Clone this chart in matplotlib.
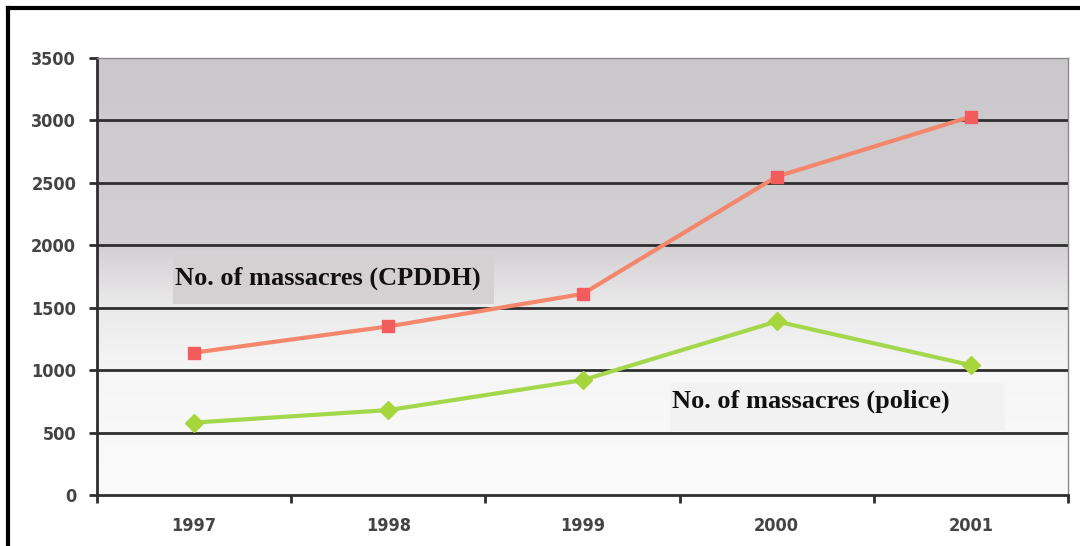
import matplotlib
matplotlib.use("Agg")
import matplotlib.pyplot as plt
import numpy as np
from matplotlib.colors import LinearSegmentedColormap
from matplotlib.lines import Line2D
from matplotlib.patches import Rectangle

years = ["1997", "1998", "1999", "2000", "2001"]
cpddh = [1140, 1350, 1610, 2550, 3030]
police = [580, 680, 920, 1390, 1040]
yticks = [0, 500, 1000, 1500, 2000, 2500, 3000, 3500]

W, H = 1080, 546
fig = plt.figure(figsize=(W / 100, H / 100), dpi=100)
fig.patch.set_facecolor("white")
ax = fig.add_axes([97/W, 51/H, 971/W, 437/H])

x = np.arange(len(years))
ax.set_xlim(-0.5, len(years) - 0.5)
ax.set_ylim(0, 3500)

# background gradient
cmap = LinearSegmentedColormap.from_list("bg", [
    (0.0, "#fbfbfb"), (0.28, "#f6f6f6"), (0.43, "#ebeaeb"),
    (0.57, "#d3d0d3"), (1.0, "#cbc8cb")])
grad = np.linspace(0, 1, 256).reshape(-1, 1)
ax.imshow(grad, extent=[-0.5, len(years) - 0.5, 0, 3500], origin="lower",
          aspect="auto", cmap=cmap, zorder=0)

for yv in yticks[1:-1]:
    ax.axhline(yv, color="#2e2e2e", lw=2.0, zorder=1)

ax.plot(x, cpddh, color="#f4866c", lw=3, marker="s", markersize=9,
        markerfacecolor="#f25c5c", markeredgecolor="#f25c5c", zorder=3)
ax.plot(x, police, color="#a4d84c", lw=3, marker="D", markersize=9,
        markerfacecolor="#a6d63c", markeredgecolor="#a6d63c", zorder=3)

ax.set_yticks(yticks)
ax.set_yticklabels([str(v) for v in yticks])
ax.set_xticks(x)
ax.set_xticklabels(years)
ax.set_xticks(np.arange(-0.5, len(years) + 0.5, 1), minor=True)
ax.tick_params(axis="x", which="major", length=0, pad=16)
ax.tick_params(axis="x", which="minor", length=6, width=2, color="#2e2e2e", direction="out")
ax.tick_params(axis="y", length=6, width=2, color="#2e2e2e", pad=9)
for lab in ax.get_xticklabels() + ax.get_yticklabels():
    lab.set_fontfamily("DejaVu Sans")
    lab.set_fontweight("bold")
    lab.set_fontstretch("condensed")
    lab.set_fontsize(13)
    lab.set_color("#444444")

ax.spines["left"].set_color("#2e2e2e")
ax.spines["left"].set_linewidth(2)
ax.spines["bottom"].set_color("#2e2e2e")
ax.spines["bottom"].set_linewidth(2)
ax.spines["top"].set_color("#8a8a8a")
ax.spines["top"].set_linewidth(1)
ax.spines["right"].set_color("#8a8a8a")
ax.spines["right"].set_linewidth(1)

# label boxes (pixel placement)
def px_rect(x0, y0, x1, y1, color):
    fig.add_artist(Rectangle((x0 / W, 1 - y1 / H), (x1 - x0) / W, (y1 - y0) / H,
                             transform=fig.transFigure, facecolor=color,
                             edgecolor="none", zorder=4))

px_rect(173, 254, 494, 304, "#d5d1d3")
px_rect(670, 383, 1005, 431, "#f2f2f2")
fig.text(175 / W, 1 - 278 / H, "No. of massacres (CPDDH)", fontsize=19, fontweight="bold",
         family="Liberation Serif", color="#111111", va="center", ha="left", zorder=5)
fig.text(672 / W, 1 - 401 / H, "No. of massacres (police)", fontsize=19, fontweight="bold",
         family="Liberation Serif", color="#111111", va="center", ha="left", zorder=5)

# outer frame lines (left and top)
fig.add_artist(Line2D([8/W, 8/W], [0, 1 - 8/H], transform=fig.transFigure,
                      color="black", lw=3))
fig.add_artist(Line2D([8/W, 1], [1 - 8/H, 1 - 8/H], transform=fig.transFigure,
                      color="black", lw=3))

fig.savefig("out.png", dpi=100)
